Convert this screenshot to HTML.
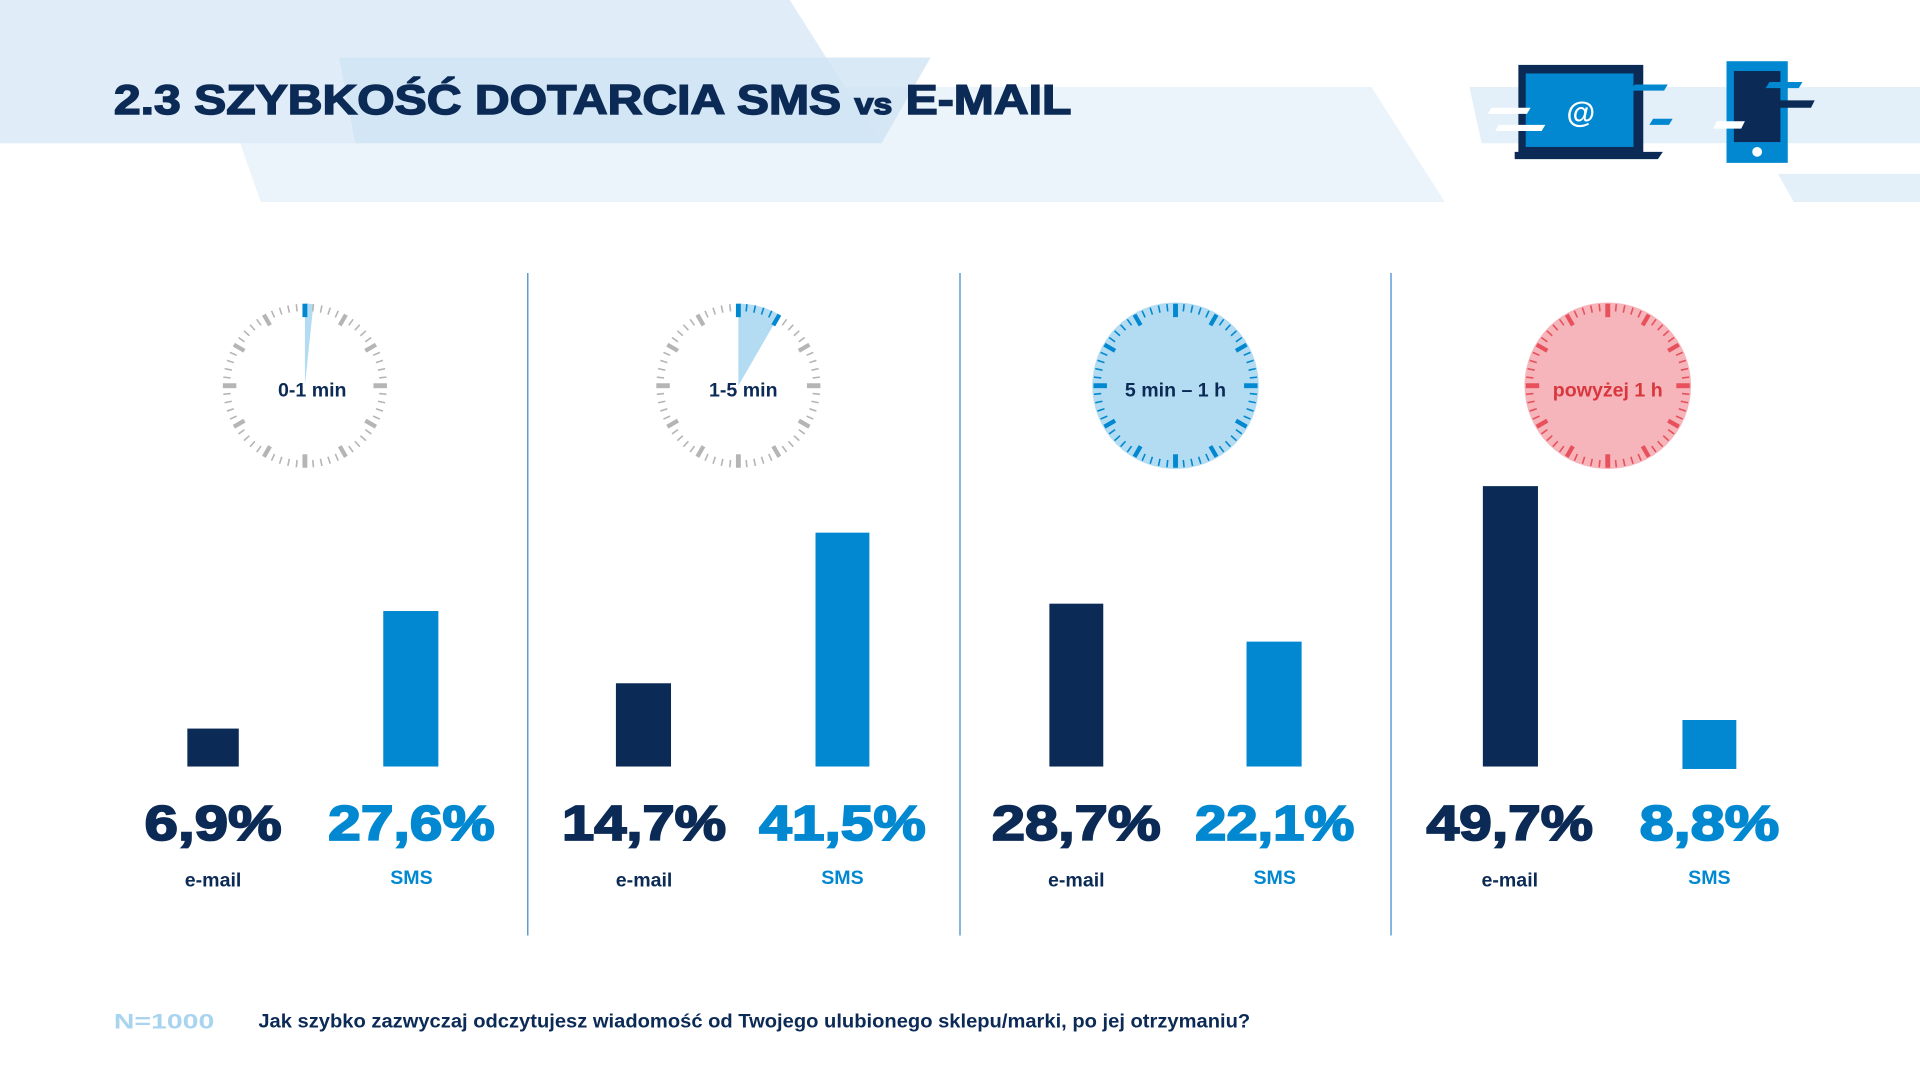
<!DOCTYPE html>
<html><head><meta charset="utf-8"><style>
html,body{margin:0;padding:0;background:#fff;width:1920px;height:1080px;overflow:hidden}
svg{display:block}
text{font-family:"Liberation Sans",sans-serif}
</style></head><body>
<svg id="s" width="1920" height="1080" viewBox="0 0 1568 882" preserveAspectRatio="none" xmlns="http://www.w3.org/2000/svg">
<rect width="1568" height="882" fill="#fff"/>
<polygon points="180,71 1120,71 1180,165 213,165" fill="#ecf4fb"/>
<polygon points="0,0 645,0 690,71 720,117 0,117" fill="#e0edf8"/>
<polygon points="277,47 760,47 720,117 290,117" fill="#cfe4f4" opacity="0.8"/>
<polygon points="1200,71 1568,71 1568,117 1210,117" fill="#e3eff9"/>
<polygon points="1452,142 1568,142 1568,165 1465,165" fill="#e3eff9"/>
<text x="93" y="93" font-size="34" font-weight="bold" fill="#0b2a55" stroke="#0b2a55" stroke-width="1.2" textLength="782" lengthAdjust="spacingAndGlyphs">2.3  SZYBKOŚĆ DOTARCIA SMS <tspan font-size="24">vs</tspan> E-MAIL</text>
<!-- laptop -->
<rect x="1240" y="53" width="102" height="72" fill="#0b2a55"/>
<rect x="1246" y="60" width="88" height="60" fill="#0288d1"/>
<polygon points="1237,124 1358,124 1354,130 1237,130" fill="#0b2a55"/>
<text x="1291" y="100" font-size="24" font-weight="bold" fill="#fff" text-anchor="middle">@</text>
<polygon points="1218,88 1250,88 1247,93 1215,93" fill="#fff"/>
<polygon points="1224,102 1262,102 1259,107 1221,107" fill="#fff"/>
<polygon points="1335,69 1362,69 1359,74 1332,74" fill="#0288d1"/>
<polygon points="1350,97 1366,97 1363,102 1347,102" fill="#0288d1"/>
<!-- phone -->
<rect x="1410" y="50" width="50" height="83" fill="#0288d1"/>
<rect x="1416" y="58" width="38" height="58" fill="#0b2a55"/>
<circle cx="1435" cy="124" r="4" fill="#fff"/>
<polygon points="1445,67 1472,67 1469,72 1442,72" fill="#0288d1"/>
<polygon points="1450,82 1482,82 1479,88 1447,88" fill="#0b2a55"/>
<polygon points="1402,99 1425,99 1422,105 1399,105" fill="#fff"/>
<!-- dividers -->
<g stroke="#5b9bd0" stroke-width="1.2">
<line x1="431" y1="223" x2="431" y2="764"/><line x1="784" y1="223" x2="784" y2="764"/><line x1="1136" y1="223" x2="1136" y2="764"/>
</g>
<!-- clock backgrounds -->
<path d="M249,315 L249,248 A67,67 0 0 1 256,248.4 Z" fill="#b3dcf2"/>
<path d="M603,315 L603,248 A67,67 0 0 1 636.5,257 Z" fill="#b3dcf2"/>
<circle cx="960" cy="315" r="68" fill="#b3dcf2"/>
<circle cx="1313" cy="315" r="68" fill="#f5b5ba"/>
<g id="ticks"></g>
<g font-size="16" font-weight="bold" text-anchor="middle">
<text x="255" y="324" fill="#0b2a55">0-1 min</text>
<text x="607" y="324" fill="#0b2a55">1-5 min</text>
<text x="960" y="324" fill="#0b2a55">5 min – 1 h</text>
<text x="1313" y="324" fill="#d9363e">powyżej 1 h</text>
</g>
<!-- bars -->
<rect x="153" y="595" width="42" height="31" fill="#0b2a55"/>
<rect x="313" y="499" width="45" height="127" fill="#0288d1"/>
<rect x="503" y="558" width="45" height="68" fill="#0b2a55"/>
<rect x="666" y="435" width="44" height="191" fill="#0288d1"/>
<rect x="857" y="493" width="44" height="133" fill="#0b2a55"/>
<rect x="1018" y="524" width="45" height="102" fill="#0288d1"/>
<rect x="1211" y="397" width="45" height="229" fill="#0b2a55"/>
<rect x="1374" y="588" width="44" height="40" fill="#0288d1"/>
<g font-size="40" font-weight="bold" text-anchor="middle" stroke-width="1.5">
<text x="174" y="686" fill="#0b2a55" stroke="#0b2a55" textLength="112" lengthAdjust="spacingAndGlyphs">6,9%</text>
<text x="336" y="686" fill="#0288d1" stroke="#0288d1" textLength="136" lengthAdjust="spacingAndGlyphs">27,6%</text>
<text x="526" y="686" fill="#0b2a55" stroke="#0b2a55" textLength="134" lengthAdjust="spacingAndGlyphs">14,7%</text>
<text x="688" y="686" fill="#0288d1" stroke="#0288d1" textLength="136" lengthAdjust="spacingAndGlyphs">41,5%</text>
<text x="879" y="686" fill="#0b2a55" stroke="#0b2a55" textLength="138" lengthAdjust="spacingAndGlyphs">28,7%</text>
<text x="1041" y="686" fill="#0288d1" stroke="#0288d1" textLength="130" lengthAdjust="spacingAndGlyphs">22,1%</text>
<text x="1233" y="686" fill="#0b2a55" stroke="#0b2a55" textLength="136" lengthAdjust="spacingAndGlyphs">49,7%</text>
<text x="1396" y="686" fill="#0288d1" stroke="#0288d1" textLength="114" lengthAdjust="spacingAndGlyphs">8,8%</text>
</g>
<g font-size="16" font-weight="bold" text-anchor="middle">
<text x="174" y="724" fill="#0b2a55">e-mail</text>
<text x="336" y="722" fill="#0288d1">SMS</text>
<text x="526" y="724" fill="#0b2a55">e-mail</text>
<text x="688" y="722" fill="#0288d1">SMS</text>
<text x="879" y="724" fill="#0b2a55">e-mail</text>
<text x="1041" y="722" fill="#0288d1">SMS</text>
<text x="1233" y="724" fill="#0b2a55">e-mail</text>
<text x="1396" y="722" fill="#0288d1">SMS</text>
</g>
<text x="93" y="840" font-size="17" font-weight="bold" fill="#a8d4f0" textLength="82" lengthAdjust="spacingAndGlyphs">N=1000</text>
<text x="211" y="839" font-size="15.5" font-weight="bold" fill="#0b2a55" textLength="810" lengthAdjust="spacingAndGlyphs">Jak szybko zazwyczaj odczytujesz wiadomość od Twojego ulubionego sklepu/marki, po jej otrzymaniu?</text>
</svg>
<script>
var g=document.getElementById('ticks'),ns='http://www.w3.org/2000/svg';
var clocks=[[249,315,'#b5b5b5',1],[603,315,'#b5b5b5',6],[960,315,'#0288d1',0],[1313,315,'#e8505b',0]];
clocks.forEach(function(c){
 for(var i=0;i<60;i++){
  var a=i*6*Math.PI/180,maj=i%5==0,quad=i%15==0;
  var r1=67,r2=quad?56:(maj?57:61),w=quad?4:(maj?3.5:1.3);
  var col=c[2];
  if(c[3] && (i==0)) col='#0288d1';
  if(c[3]==6 && i<=5 && i>0) col='#0288d1';
  var s=Math.sin(a),k=-Math.cos(a);
  var l=document.createElementNS(ns,'line');
  l.setAttribute('x1',c[0]+s*r1);l.setAttribute('y1',c[1]+k*r1);
  l.setAttribute('x2',c[0]+s*r2);l.setAttribute('y2',c[1]+k*r2);
  l.setAttribute('stroke',col);l.setAttribute('stroke-width',w);
  g.appendChild(l);
 }
});
</script>
</body></html>
